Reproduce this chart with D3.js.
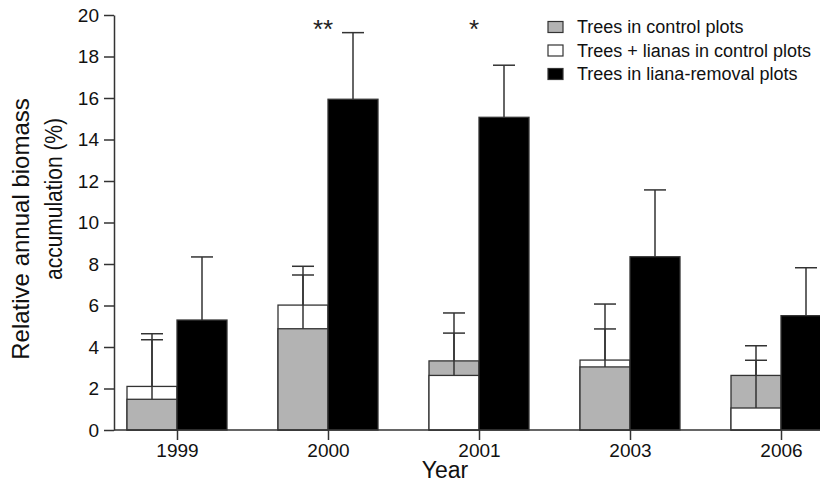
<!DOCTYPE html>
<html>
<head>
<meta charset="utf-8">
<script src="https://cdn.jsdelivr.net/npm/d3@7"></script>
<style>
  html, body { margin: 0; padding: 0; background: #fff; }
  svg { display: block; font-family: "Liberation Sans", Arial, Helvetica, sans-serif; }
</style>
</head>
<body>
<svg id="chart" width="820" height="490"></svg>
<script>
// ---- data ----
const years = ["1999", "2000", "2001", "2003", "2006"];
const treesControl = [1.48, 4.88, 3.33, 3.04, 2.63];
const treesControlSE = [2.87, 2.59, 1.34, 1.83, 0.73];
const treesLianasControl = [2.10, 6.02, 2.63, 3.37, 1.06];
const treesLianasControlSE = [2.54, 1.87, 3.01, 2.70, 3.00];
const treesRemoval = [5.30, 15.94, 15.07, 8.35, 5.51];
const treesRemovalSE = [3.04, 3.21, 2.51, 3.22, 2.31];
const significance = ["", "**", "*", "", ""];
const yTicks = [0, 2, 4, 6, 8, 10, 12, 14, 16, 18, 20];
const seriesNames = ["Trees in control plots", "Trees + lianas in control plots", "Trees in liana-removal plots"];
const seriesFills = ["#b3b3b3", "#ffffff", "#000000"];

// ---- layout ----
const svg = d3.select("#chart");
const axisLeftX = 114, plotTop = 15, plotBottom = 430, plotRight = 820;
const y = d3.scaleLinear().domain([0, 20]).range([plotBottom, plotTop]);
const x = d3.scalePoint().domain(years).range([177, 781]);
const bw = 50;
const stroke = "#333";

// control bars: taller drawn first, shorter on top
const ctrlBars = [];
years.forEach((yr, i) => {
  const items = [
    { yr, v: treesControl[i], se: treesControlSE[i], fill: seriesFills[0] },
    { yr, v: treesLianasControl[i], se: treesLianasControlSE[i], fill: seriesFills[1] }
  ].sort((a, b) => b.v - a.v);
  items.forEach(d => ctrlBars.push(d));
});

const g = svg.append("g");

// error bars (drawn behind bars)
const capW = 22;
const errG = g.append("g").attr("stroke", stroke).attr("stroke-width", 1.5);
ctrlBars.forEach(d => {
  const cx = x(d.yr) - bw / 2;
  errG.append("line").attr("x1", cx).attr("x2", cx).attr("y1", y(d.v)).attr("y2", y(d.v + d.se));
  errG.append("line").attr("x1", cx - capW / 2).attr("x2", cx + capW / 2).attr("y1", y(d.v + d.se)).attr("y2", y(d.v + d.se));
});
years.forEach((yr, i) => {
  const cx = x(yr) + bw / 2;
  const top = treesRemoval[i] + treesRemovalSE[i];
  errG.append("line").attr("x1", cx).attr("x2", cx).attr("y1", y(treesRemoval[i])).attr("y2", y(top));
  errG.append("line").attr("x1", cx - capW / 2).attr("x2", cx + capW / 2).attr("y1", y(top)).attr("y2", y(top));
});

// control bars
g.append("g").selectAll("rect").data(ctrlBars).join("rect")
  .attr("x", d => x(d.yr) - bw)
  .attr("y", d => y(d.v))
  .attr("width", bw)
  .attr("height", d => y(0) - y(d.v))
  .attr("fill", d => d.fill)
  .attr("stroke", stroke).attr("stroke-width", 1.3);

// error line segment that passes over the taller control bar
const overG = g.append("g").attr("stroke", stroke).attr("stroke-width", 1.5);
years.forEach((yr, i) => {
  const cx = x(yr) - bw / 2;
  const lo = Math.min(treesControl[i], treesLianasControl[i]);
  const hi = Math.max(treesControl[i], treesLianasControl[i]);
  overG.append("line").attr("x1", cx).attr("x2", cx).attr("y1", y(lo)).attr("y2", y(hi));
});

// removal bars
g.append("g").selectAll("rect").data(years).join("rect")
  .attr("x", d => x(d))
  .attr("y", (d, i) => y(treesRemoval[i]))
  .attr("width", bw)
  .attr("height", (d, i) => y(0) - y(treesRemoval[i]))
  .attr("fill", seriesFills[2])
  .attr("stroke", stroke).attr("stroke-width", 1.3);

// significance
svg.append("g").selectAll("text").data(years).join("text")
  .attr("x", d => x(d) - 5)
  .attr("y", 38)
  .attr("text-anchor", "middle")
  .attr("font-size", 26)
  .attr("fill", "#222")
  .text((d, i) => significance[i]);

// axes
const yAxis = svg.append("g").attr("transform", `translate(${axisLeftX},0)`)
  .call(d3.axisLeft(y).tickValues(yTicks).tickSize(10).tickSizeOuter(0).tickPadding(5));
yAxis.selectAll("text").attr("font-size", 19).attr("fill", "#111").attr("font-family", "Liberation Sans, Arial, sans-serif");
yAxis.selectAll("line, path").attr("stroke", stroke).attr("stroke-width", 1.5);

const xAxis = svg.append("g").attr("transform", `translate(0,${plotBottom})`)
  .call(d3.axisBottom(x).tickSize(10).tickPadding(4));
xAxis.select(".domain").remove();
xAxis.selectAll("text").attr("font-size", 19).attr("fill", "#111").attr("font-family", "Liberation Sans, Arial, sans-serif");
xAxis.selectAll("line").attr("stroke", stroke).attr("stroke-width", 1.5);
svg.append("line").attr("x1", axisLeftX).attr("x2", plotRight).attr("y1", plotBottom).attr("y2", plotBottom)
  .attr("stroke", stroke).attr("stroke-width", 1.5);

// axis titles
svg.append("text").attr("x", 445).attr("y", 478).attr("text-anchor", "middle")
  .attr("font-size", 23).attr("fill", "#111").text("Year");
svg.append("text").attr("transform", "translate(29,229) rotate(-90)")
  .attr("text-anchor", "middle").attr("font-size", 24).attr("fill", "#111")
  .text("Relative annual biomass");
svg.append("text").attr("transform", "translate(62,199) rotate(-90)")
  .attr("text-anchor", "middle").attr("font-size", 23).attr("fill", "#111")
  .attr("textLength", 162).attr("lengthAdjust", "spacingAndGlyphs")
  .text("accumulation (%)");

// legend
const leg = svg.append("g").attr("transform", "translate(548,0)");
seriesNames.forEach((name, i) => {
  const cy = 27 + i * 23.5;
  leg.append("rect").attr("x", 0).attr("y", cy - 5.5).attr("width", 15).attr("height", 11)
    .attr("fill", seriesFills[i]).attr("stroke", stroke).attr("stroke-width", 1.2);
  leg.append("text").attr("x", 29).attr("y", cy).attr("dy", "0.35em")
    .attr("font-size", 18).attr("fill", "#111").text(name);
});
</script>
</body>
</html>
